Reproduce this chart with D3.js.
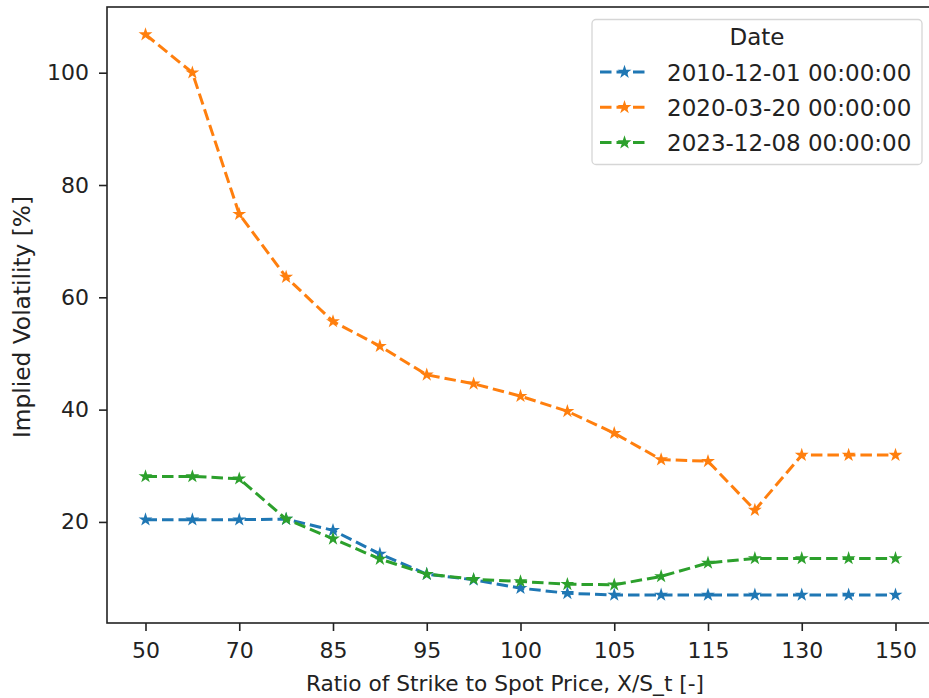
<!DOCTYPE html>
<html>
<head>
<meta charset="utf-8">
<script src="https://cdn.jsdelivr.net/npm/d3@7"></script>
<style>
  body { margin: 0; background: #fff; }
  svg { display: block; font-family: "DejaVu Sans", sans-serif; }
</style>
</head>
<body>
<svg id="chart" width="929" height="698"></svg>
<script>
// strike / spot ratios (every other one gets a tick label)
const ratios = ["50", "60", "70", "80", "85", "90", "95", "97.5", "100", "102.5", "105", "110", "115", "120", "130", "140", "150"];
const tickRatios = ["50", "70", "85", "95", "100", "105", "115", "130", "150"];
const yTicks = [20, 40, 60, 80, 100];

const dates = ["2010-12-01 00:00:00", "2020-03-20 00:00:00", "2023-12-08 00:00:00"];
const colors = ["#1f77b4", "#ff7f0e", "#2ca02c"];

const vol2010 = [20.4, 20.4, 20.4, 20.5, 18.5, 14.3, 10.7, 9.7, 8.2, 7.3, 7.0, 7.0, 7.0, 7.0, 7.0, 7.0, 7.0];
const vol2020 = [106.8, 100.0, 74.8, 63.6, 55.7, 51.3, 46.2, 44.6, 42.4, 39.7, 35.8, 31.1, 30.8, 22.1, 31.9, 31.9, 31.9];
const vol2023 = [28.1, 28.1, 27.7, 20.5, 17.0, 13.4, 10.7, 9.8, 9.4, 8.9, 8.8, 10.3, 12.7, 13.5, 13.5, 13.5, 13.5];

const series = [vol2010, vol2020, vol2023];

const svg = d3.select("#chart");
const mLeft = 107, mTop = 7, mBottom = 623, mRight = 933;

const x = d3.scalePoint()
  .domain(ratios)
  .range([145.5, 895.5]);

const y = d3.scaleLinear()
  .domain([2.0, 111.7])
  .range([mBottom, mTop]);

// frame
svg.append("rect")
  .attr("x", mLeft).attr("y", mTop)
  .attr("width", mRight - mLeft).attr("height", mBottom - mTop)
  .attr("fill", "none").attr("stroke", "#222").attr("stroke-width", 1.6);

// axes
const xAxis = svg.append("g")
  .attr("transform", `translate(0,${mBottom})`)
  .call(d3.axisBottom(x).tickValues(tickRatios).tickSize(8).tickPadding(11));
const yAxis = svg.append("g")
  .attr("transform", `translate(${mLeft},0)`)
  .call(d3.axisLeft(y).tickValues(yTicks).tickSize(8).tickPadding(10));

[xAxis, yAxis].forEach(g => {
  g.select(".domain").remove();
  g.selectAll("line").attr("stroke", "#222").attr("stroke-width", 1.6);
  g.selectAll("text").attr("fill", "#222").style("font-size", "22px")
    .style("font-family", "DejaVu Sans, sans-serif");
});

// axis titles
svg.append("text")
  .attr("x", 505).attr("y", 691)
  .attr("text-anchor", "middle").attr("fill", "#222")
  .style("font-size", "21.7px")
  .text("Ratio of Strike to Spot Price, X/S_t [-]");

svg.append("text")
  .attr("transform", `translate(30,317) rotate(-90)`)
  .attr("text-anchor", "middle").attr("fill", "#222")
  .style("font-size", "23.3px")
  .text("Implied Volatility [%]");

// lines + star markers
const line = d3.line()
  .x((d, i) => x(ratios[i]))
  .y(d => y(d));

const star = d3.symbol().type(d3.symbolStar).size(60);

series.forEach((vals, k) => {
  const g = svg.append("g");
  g.append("path")
    .datum(vals)
    .attr("d", line)
    .attr("fill", "none")
    .attr("stroke", colors[k])
    .attr("stroke-width", 3)
    .attr("stroke-dasharray", "11.5,5");
  g.selectAll("path.pt")
    .data(vals)
    .enter()
    .append("path")
    .attr("class", "pt")
    .attr("d", star)
    .attr("transform", (d, i) => `translate(${x(ratios[i])},${y(d)})`)
    .attr("fill", colors[k]);
});

// legend
const lg = svg.append("g");
lg.append("rect")
  .attr("x", 592).attr("y", 19.5)
  .attr("width", 330).attr("height", 145)
  .attr("rx", 4)
  .attr("fill", "#fff").attr("fill-opacity", 0.8)
  .attr("stroke", "#d6d6d6").attr("stroke-width", 1.3);

lg.append("text")
  .attr("x", 757).attr("y", 45)
  .attr("text-anchor", "middle").attr("fill", "#222")
  .style("font-size", "23px")
  .text("Date");

dates.forEach((d, k) => {
  const cy = 72 + k * 35.3;
  lg.append("line")
    .attr("x1", 600).attr("x2", 649)
    .attr("y1", cy).attr("y2", cy)
    .attr("stroke", colors[k]).attr("stroke-width", 3)
    .attr("stroke-dasharray", "11.5,5");
  lg.append("path")
    .attr("d", star)
    .attr("transform", `translate(624.5,${cy})`)
    .attr("fill", colors[k]);
  lg.append("text")
    .attr("x", 667).attr("y", cy + 8.5)
    .attr("fill", "#222")
    .style("font-size", "23px")
    .text(d);
});
</script>
</body>
</html>
